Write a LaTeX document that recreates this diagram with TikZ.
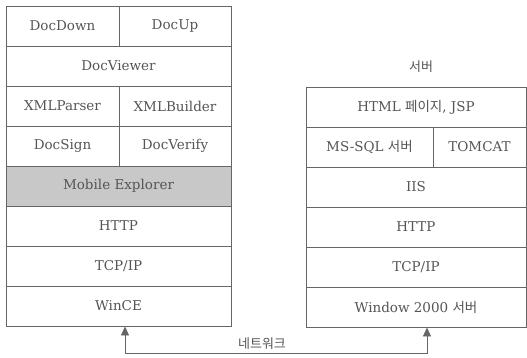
\documentclass[tikz,border=0pt]{standalone}
\usepackage{fontspec}
\setmainfont{DejaVu Serif}
\newfontfamily\kofont{Noto Sans CJK KR}
\usetikzlibrary{positioning,arrows.meta}

\definecolor{linegray}{HTML}{666666}
\definecolor{textgray}{HTML}{555555}
\definecolor{shadegray}{HTML}{C8C8C8}

\begin{document}
\begin{tikzpicture}
    [x=1pt, y=1pt,
     layer/.style = {draw=linegray, line width=0.9pt, minimum height=40pt, inner sep=0pt,
                     text=textgray, font=\fontsize{13.5}{15}\selectfont},
     kolabel/.style = {text=textgray, font=\kofont\fontsize{13}{15}\selectfont},
     net/.style = {draw=linegray, line width=0.9pt, {Triangle[length=9pt,width=8pt]}-{Triangle[length=9pt,width=8pt]}}]

    \useasboundingbox (0,0) rectangle (527,-357);

    % client stack
    \node[layer, minimum width=113pt] (docdown) at (62.5,-26) {DocDown};
    \node[layer, minimum width=112pt] (docup) at (175,-26) {DocUp};
    \node[layer, minimum width=225pt] (docviewer) at (118.5,-66) {DocViewer};
    \node[layer, minimum width=113pt] (xmlparser) at (62.5,-106) {XMLParser};
    \node[layer, minimum width=112pt] (xmlbuilder) at (175,-106) {XMLBuilder};
    \node[layer, minimum width=113pt] (docsign) at (62.5,-146) {DocSign};
    \node[layer, minimum width=112pt] (docverify) at (175,-146) {DocVerify};
    \node[layer, minimum width=225pt, fill=shadegray] (mobile) at (118.5,-186) {Mobile Explorer};
    \node[layer, minimum width=225pt] (lhttp) at (118.5,-226) {HTTP};
    \node[layer, minimum width=225pt] (ltcpip) at (118.5,-266) {TCP/IP};
    \node[layer, minimum width=225pt] (wince) at (118.5,-306) {WinCE};

    % server stack
    \node[kolabel] (server) at (421,-67) {서버};
    \node[layer, minimum width=220pt] (html) at (416,-107) {HTML {\kofont 페이지}, JSP};
    \node[layer, minimum width=127pt] (mssql) at (369.5,-147) {MS-SQL {\kofont 서버}};
    \node[layer, minimum width=93pt] (tomcat) at (479.5,-147) {TOMCAT};
    \node[layer, minimum width=220pt] (iis) at (416,-187) {IIS};
    \node[layer, minimum width=220pt] (rhttp) at (416,-227) {HTTP};
    \node[layer, minimum width=220pt] (rtcpip) at (416,-267) {TCP/IP};
    \node[layer, minimum width=220pt] (win2000) at (416,-307) {Window 2000 {\kofont 서버}};

    % network
    \coordinate (netL) at (125,-353);
    \coordinate (netR) at (427,-353);
    \path[net] (netL |- wince.south) -- (netL) -- (netR) -- (netR |- win2000.south);
    \node[kolabel] (network) at (262,-344) {네트워크};

\end{tikzpicture}
\end{document}
